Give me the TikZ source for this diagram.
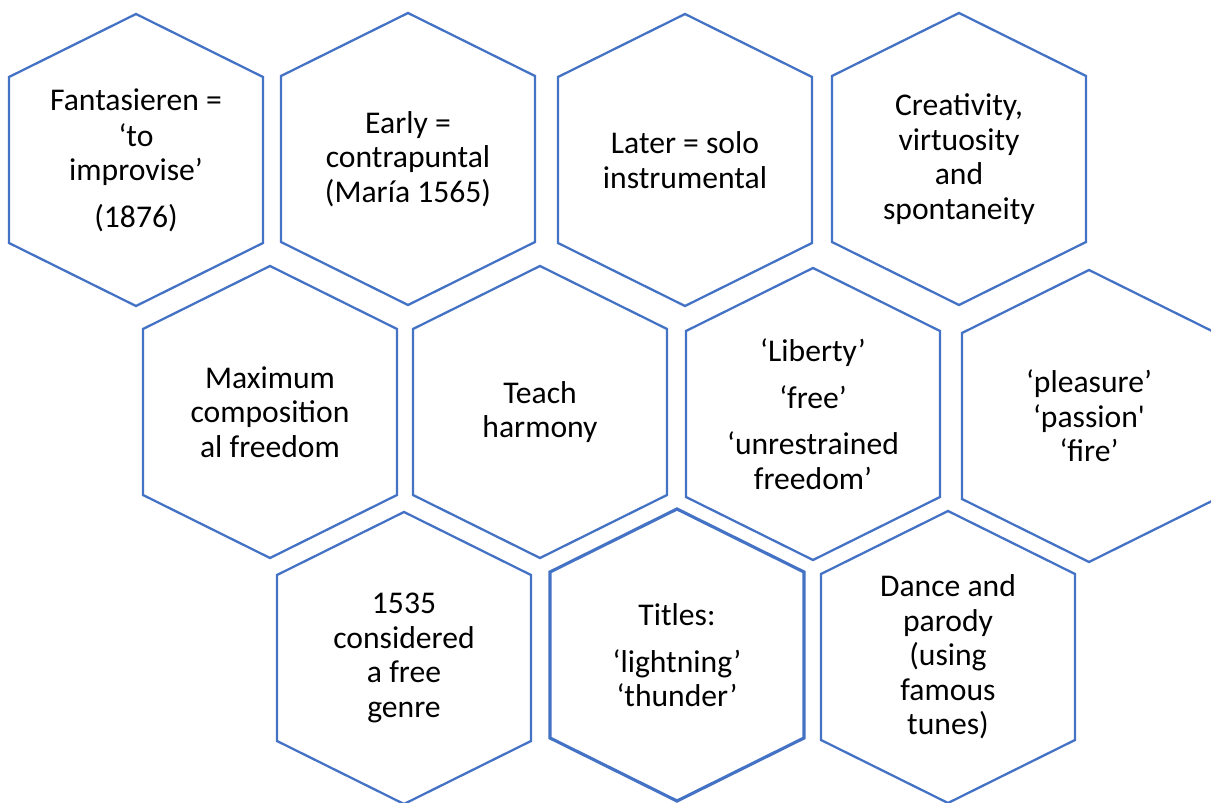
\documentclass[tikz,border=0pt]{standalone}
\usepackage{fontspec}
\newfontfamily\hexfont{Carlito}
\usetikzlibrary{calc}
\definecolor{HexBlue}{HTML}{4472C4}

\begin{document}
\begin{tikzpicture}[x=0.02cm,y=-0.02cm,
cell/.style={align=center,font=\hexfont\fontsize{18}{19.6}\selectfont,text=black},
hexline/.style={draw=HexBlue,line join=miter}]
\useasboundingbox (0,0) rectangle (1211,803);
% top row
\node[cell](fant) at (136,160){Fantasieren =\\[1pt]‘to\\improvise’\\[7pt](1876)};
\node[cell](early) at (408,159){Early =\\contrapuntal\\(María 1565)};
\node[cell](later) at (685,160){Later = solo\\instrumental};
\node[cell](creat) at (959,159){Creativity,\\virtuosity\\and\\spontaneity};
% middle row
\node[cell](maxim) at (270,412){Maximum\\composition\\al freedom};
\node[cell](teach) at (540,412){Teach\\harmony};
\node[cell](liberty) at (813,414){‘Liberty’\\[7pt]‘free’\\[7pt]‘unrestrained\\freedom’};
\node[cell](pleas) at (1089,416){‘pleasure’\\‘passion'\\‘fire’};
% bottom row
\node[cell](genre) at (404,658){1535\\considered\\a free\\genre};
\node[cell](titles) at (677,655){Titles:\\[7pt]‘lightning’\\‘thunder’};
\node[cell](dance) at (948,657){Dance and\\parody\\(using\\famous\\tunes)};
% hexagon outlines round the cells
\foreach \c/\w in {fant/1.3,early/1.3,later/1.3,creat/1.3,maxim/1.3,teach/1.3,liberty/1.3,pleas/1.3,genre/1.3,titles/1.8,dance/1.3}
  \draw[hexline,line width=\w pt] ($(\c)+(0,-146)$) -- ($(\c)+(127,-83)$) -- ($(\c)+(127,83)$) -- ($(\c)+(0,146)$)
    -- ($(\c)+(-127,83)$) -- ($(\c)+(-127,-83)$) -- cycle;
\end{tikzpicture}
\end{document}
